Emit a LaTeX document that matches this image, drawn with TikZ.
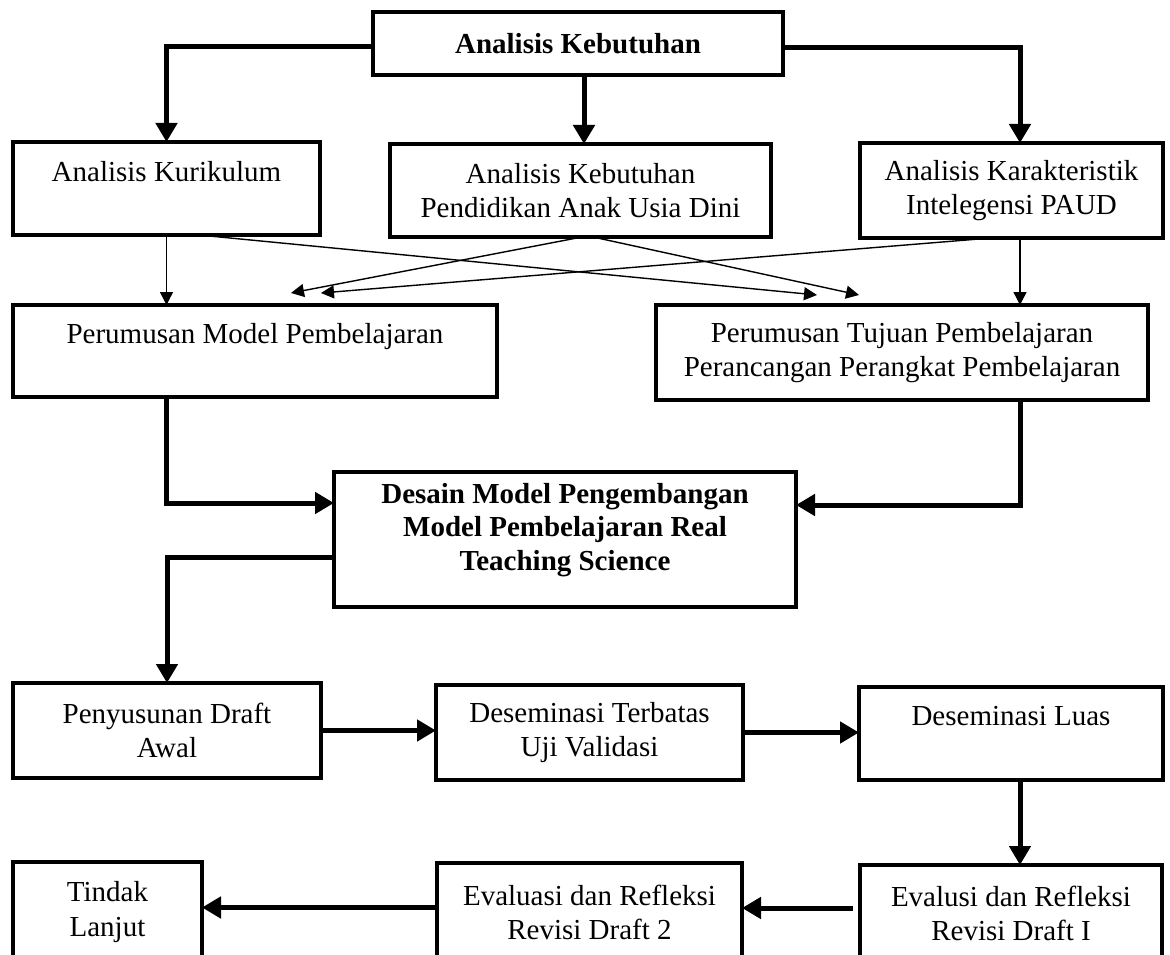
\documentclass[tikz,border=0pt]{standalone}
\usepackage{fontspec}
\setmainfont{Liberation Serif}
\usetikzlibrary{arrows.meta,calc}
\begin{document}
\begin{tikzpicture}[x=1pt,y=-1pt,
  box/.style={draw, line width=4pt, rectangle, inner sep=0pt, outer sep=0pt, align=center,
    font=\fontsize{29}{34.5}\selectfont},
  bbox/.style={box, font=\fontsize{29}{33.5}\selectfont\bfseries},
  bigarrow/.style={line width=5pt, -{Triangle[length=19pt,width=21pt]}},
  thinarrow/.style={line width=1.4pt, -{Triangle[length=13pt,width=13pt]}}
]
\useasboundingbox (0,0) rectangle (1170,955);
\clip (0,0) rectangle (1170,955);

% boxes
\node[bbox, minimum width=410pt, minimum height=63pt] (top) at (578,43.5) {Analisis Kebutuhan};
\node[box, minimum width=307pt, minimum height=93pt] (kur) at (166.5,188.5) {Analisis Kurikulum\\\mbox{}};
\node[box, minimum width=381pt, minimum height=93pt] (kpaud) at (580.5,190.5) {Analisis Kebutuhan\\Pendidikan Anak Usia Dini};
\node[box, minimum width=303pt, minimum height=95pt] (kar) at (1011.5,190.5) {Analisis Karakteristik\\Intelegensi PAUD};
\node[box, minimum width=484pt, minimum height=92pt] (pm) at (255,351) {Perumusan Model Pembelajaran\\\mbox{}};
\node[box, minimum width=492pt, minimum height=95pt] (pt) at (902,352.5) {Perumusan Tujuan Pembelajaran\\Perancangan Perangkat Pembelajaran};
\node[bbox, minimum width=462pt, minimum height=135pt] (desain) at (565,539.5) {Desain Model Pengembangan\\Model Pembelajaran Real\\Teaching Science\rule[-26pt]{0pt}{26pt}};
\node[box, minimum width=308pt, minimum height=95pt] (draft) at (167,730.5) {Penyusunan Draft\\Awal};
\node[box, minimum width=307pt, minimum height=95pt] (terbatas) at (589.5,732.5) {Deseminasi Terbatas\\Uji Validasi};
\node[box, minimum width=304pt, minimum height=93pt] (luas) at (1011,733.5) {Deseminasi Luas\\\mbox{}};
\node[box, minimum width=189pt, minimum height=100pt] (tindak) at (107.5,912) {Tindak\\Lanjut};
\node[box, minimum width=305pt, minimum height=99pt] (eval2) at (589.5,912.5) {Evaluasi dan Refleksi\\Revisi Draft 2};
\node[box, minimum width=302pt, minimum height=97pt] (eval1) at (1011,913.5) {Evalusi dan Refleksi\\Revisi Draft I};

% helper coordinates
\coordinate (rx) at ([xshift=8.5pt]kar.north);
\coordinate (mx) at ([xshift=3.5pt]kpaud.north);
\coordinate (t1) at (817,295);
\coordinate (t2) at (859,295);
\coordinate (t3) at (291,293);
\coordinate (t4) at (321,293);

% top level connectors
\draw[bigarrow] ([yshift=-3.5pt]top.west) -| (kur.north);
\draw[bigarrow] (top.south -| mx) -- (mx);
\draw[bigarrow] ([yshift=-4.5pt]top.east) -| (rx);

% thin connectors
\draw[thinarrow] (kur.south) -- (kur.south |- pm.north);
\draw[thinarrow] (kar.south -| rx) -- (pt.north -| rx);
\draw[thinarrow] ([xshift=32.5pt]kur.south) -- (t1);
\draw[thinarrow] ([xshift=1.5pt]kpaud.south) -- (t3);
\draw[thinarrow] ([xshift=12.5pt]kpaud.south) -- (t2);
\draw[thinarrow] ([xshift=-20.5pt]kar.south) -- (t4);

% to design
\draw[bigarrow] (pm.south -| kur.south) |- ([yshift=36.5pt]desain.west);
\draw[bigarrow] (pt.south -| rx) |- ([yshift=34.5pt]desain.east);
\draw[bigarrow] ([yshift=-17.5pt]desain.west) -| (draft.north);

% lower flow
\draw[bigarrow] (draft.east) -- (draft.east -| terbatas.west);
\draw[bigarrow] (terbatas.east) -- (terbatas.east -| luas.west);
\draw[bigarrow] (luas.south -| rx) -- (eval1.north -| rx);
\draw[bigarrow, shorten <=7pt] ([yshift=5.5pt]eval1.west) -- ([yshift=5.5pt]eval1.west -| eval2.east);
\draw[bigarrow] ([yshift=5pt]eval2.west) -- ([yshift=5pt]eval2.west -| tindak.east);
\end{tikzpicture}
\end{document}
